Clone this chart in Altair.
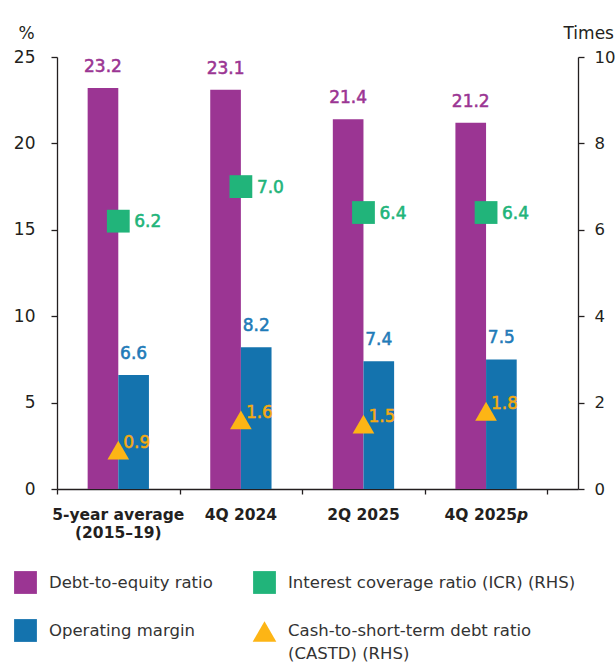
import altair as alt
import pandas as pd

# ---------------- data ----------------
categories = ["5-year average\n(2015–19)", "4Q 2024", "2Q 2025", "4Q 2025"]
category_suffix = ["", "", "", "p"]
debt_to_equity = [23.2, 23.1, 21.4, 21.2]
operating_margin = [6.6, 8.2, 7.4, 7.5]
icr = [6.2, 7.0, 6.4, 6.4]
castd = [0.9, 1.6, 1.5, 1.8]

left_ticks = [0, 5, 10, 15, 20, 25]
right_ticks = [0, 2, 4, 6, 8, 10]

legend_labels = [
    "Debt-to-equity ratio",
    "Interest coverage ratio (ICR) (RHS)",
    "Operating margin",
    "Cash-to-short-term debt ratio\n(CASTD) (RHS)",
]

# ---------------- style ----------------
PURPLE = "#9B3593"
BLUE = "#1473AE"
GREEN = "#21B47A"
ORANGE = "#FDB515"
ORANGE_TXT = "#F4AA12"
BLUE_TXT = "#1F7BB8"
DARK = "#231F20"
FONT = "DejaVu Sans"
VAL_SIZE = 17
VAL_STROKE = 0.55

W, H = 521, 432

df = pd.DataFrame({
    "idx": list(range(len(categories))),
    "cat": categories,
    "suffix": category_suffix,
    "de": debt_to_equity,
    "om": operating_margin,
    "icr": icr,
    "castd": castd,
})

base = alt.Chart(df).transform_calculate(
    center="datum.idx + 0.5",
    pleft="datum.idx + 0.25",
    bright="datum.idx + 0.75",
    pmid="datum.idx + 0.375",
    bmid="datum.idx + 0.625",
)

xscale = alt.Scale(domain=[0, 4.25], nice=False, zero=False)
xaxis = alt.Axis(values=[0, 1, 2, 3, 4], labels=False, title=None, tickSize=5,
                 domainColor=DARK, tickColor=DARK, domainWidth=1.3, tickWidth=1.3,
                 grid=False)

lscale = alt.Scale(domain=[0, 25], nice=False, zero=True)
rscale = alt.Scale(domain=[0, 10], nice=False, zero=True)

laxis = alt.Axis(values=left_ticks, title="%", titleAngle=0, titleX=-31, titleY=-19,
                 titleAlign="center", titleBaseline="alphabetic", titleFont=FONT,
                 titleFontSize=17, titleFontWeight="normal", titleColor=DARK,
                 labelFont=FONT, labelFontSize=17, labelColor=DARK, labelPadding=16,
                 tickSize=6, tickColor=DARK, domainColor=DARK, domainWidth=1.3,
                 tickWidth=1.3, grid=False)
raxis = alt.Axis(values=right_ticks, orient="right", title="Times", titleAngle=0,
                 titleX=-15, titleY=-19, titleAlign="left", titleBaseline="alphabetic",
                 titleFont=FONT, titleFontSize=17, titleFontWeight="normal",
                 titleColor=DARK, labelFont=FONT, labelFontSize=16.5, labelColor=DARK,
                 labelPadding=10, tickSize=6, tickColor=DARK, domainColor=DARK,
                 domainWidth=1.3, tickWidth=1.3, grid=False)


def X(field):
    return alt.X(field, scale=xscale, axis=xaxis)


def YL(field):
    return alt.Y(field, scale=lscale, axis=laxis)


def YR(field):
    return alt.Y(field, scale=rscale, axis=raxis)


def val_text(col, **kw):
    return base.mark_text(color=col, stroke=col, strokeWidth=VAL_STROKE, font=FONT,
                          fontSize=VAL_SIZE, **kw)


# ---------- left-axis layers ----------
purple_bars = base.mark_bar(color=PURPLE).encode(
    x=X("pleft:Q"), x2="center:Q", y=YL("de:Q"), y2=alt.datum(0),
)
blue_bars = base.mark_bar(color=BLUE).encode(
    x=X("center:Q"), x2="bright:Q", y=YL("om:Q"), y2=alt.datum(0),
)
purple_lbl = val_text(PURPLE, baseline="alphabetic", dy=-16).encode(
    x=X("pmid:Q"), y=YL("de:Q"), text=alt.Text("de:Q", format=".1f"),
)
blue_lbl = val_text(BLUE_TXT, baseline="alphabetic", dy=-16).encode(
    x=X("bmid:Q"), y=YL("om:Q"), text=alt.Text("om:Q", format=".1f"),
)
left = alt.layer(purple_bars, blue_bars, purple_lbl, blue_lbl)

# ---------- right-axis layers ----------
squares = base.mark_point(shape="square", filled=True, size=520, color=GREEN,
                          opacity=1).encode(x=X("center:Q"), y=YR("icr:Q"))
triangles = base.mark_point(shape="triangle-up", filled=True, size=470, color=ORANGE,
                            opacity=1).encode(x=X("center:Q"), y=YR("castd:Q"))
sq_lbl = val_text(GREEN, align="left", baseline="middle", dx=16, dy=1).encode(
    x=X("center:Q"), y=YR("icr:Q"), text=alt.Text("icr:Q", format=".1f"),
)
tri_lbl = val_text(ORANGE_TXT, align="left", baseline="middle", dx=5, dy=-7).encode(
    x=X("center:Q"), y=YR("castd:Q"), text=alt.Text("castd:Q", format=".1f"),
)
right = alt.layer(squares, triangles, sq_lbl, tri_lbl)

# ---------- category labels ----------
CAT_Y = 463
cat_plain = base.transform_filter("datum.suffix == ''").mark_text(
    color=DARK, font=FONT, fontSize=15.5, fontWeight="bold", baseline="alphabetic",
    lineBreak="\n", lineHeight=18, align="center").encode(
    x=X("center:Q"), y=alt.value(CAT_Y), text="cat:N",
)
cat_suffixed = base.transform_filter("datum.suffix != ''").mark_text(
    color=DARK, font=FONT, fontSize=15.5, fontWeight="bold", baseline="alphabetic",
    align="right", dx=31).encode(
    x=X("center:Q"), y=alt.value(CAT_Y), text="cat:N",
)
cat_suffix = base.transform_filter("datum.suffix != ''").mark_text(
    color=DARK, font=FONT, fontSize=15.5, fontWeight="bold", fontStyle="italic",
    baseline="alphabetic", align="left", dx=31).encode(
    x=X("center:Q"), y=alt.value(CAT_Y), text="suffix:N",
)

# ---------- legend ----------
dummy = pd.DataFrame({"k": [0]})
legend_specs = [
    # (label index, colour, shape, symbol x, symbol y, first text line y)
    (0, PURPLE, "square", -31.5, 525.5, 525.5),
    (1, GREEN, "square", 207.5, 525.5, 525.5),
    (2, BLUE, "square", -31.5, 573.5, 573.5),
    (3, ORANGE, "triangle-up", 207.5, 574.5, 574.0),
]
legend_layers = []
for li, col, shp, sx, sy, ty in legend_specs:
    sym = alt.Chart(dummy).mark_point(shape=shp, filled=True, opacity=1, color=col,
                                      size=520 if shp == "square" else 560).encode(
        x=alt.value(sx), y=alt.value(sy))
    txt = alt.Chart(dummy).mark_text(font=FONT, fontSize=16.5, color="#333333",
                                     align="left", baseline="middle", lineBreak="\n",
                                     lineHeight=23).encode(
        x=alt.value(sx + 23.5), y=alt.value(ty), text=alt.value(legend_labels[li]))
    legend_layers += [sym, txt]

chart = alt.layer(
    left, right, cat_plain, cat_suffixed, cat_suffix, *legend_layers
).resolve_scale(y="independent").properties(
    width=W, height=H,
    autosize=alt.AutoSizeParams(type="none"),
    padding={"left": 57, "top": 57, "right": 37, "bottom": 173},
).configure_view(stroke=None)

chart.save("out.html", embed_options={"renderer": "svg", "actions": False})
